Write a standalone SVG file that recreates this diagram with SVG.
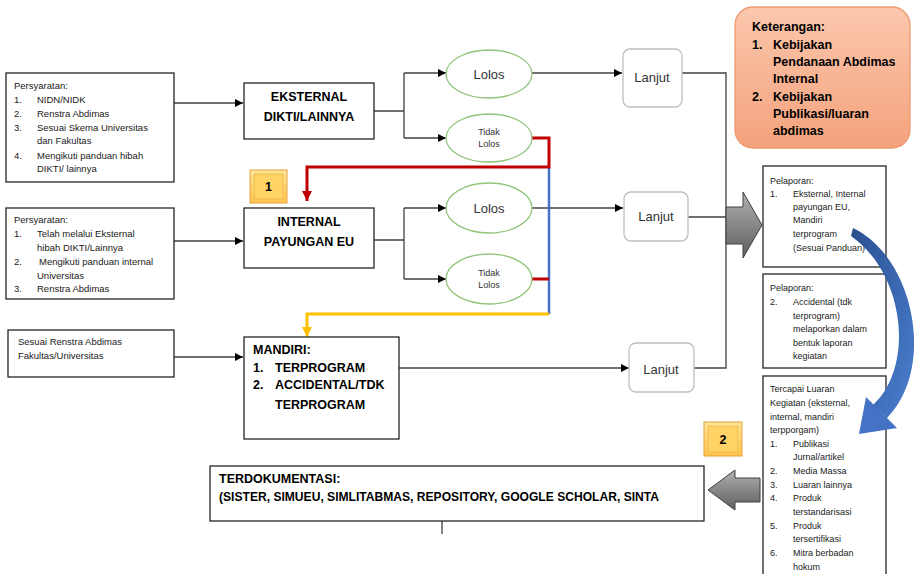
<svg xmlns="http://www.w3.org/2000/svg" width="914" height="574" viewBox="0 0 914 574">
<style>
.box{fill:#fff;stroke:#262626;stroke-width:1.3}
.ell{fill:#fff;stroke:#92c47a;stroke-width:1.3}
.lj{fill:#fff;stroke:#bfbfbf;stroke-width:1.3}
.ln{fill:none;stroke:#404040;stroke-width:1.3}
.s{font-family:"Liberation Sans",Arial,sans-serif;font-size:9.5px;fill:#1a1a1a}
.r{font-family:"Liberation Sans",Arial,sans-serif;font-size:9px;fill:#1a1a1a}
.b{font-family:"Liberation Sans",Arial,sans-serif;font-size:12.5px;font-weight:bold;fill:#000}
.e{font-family:"Liberation Sans",Arial,sans-serif;font-size:13px;fill:#333}
.t{font-family:"Liberation Sans",Arial,sans-serif;font-size:9px;fill:#333}
.k{font-family:"Liberation Sans",Arial,sans-serif;font-size:12.5px;font-weight:bold;fill:#000}
.m{text-anchor:middle}
</style>
<defs>
<marker id="ah" viewBox="0 0 10 10" refX="10" refY="5" markerWidth="8" markerHeight="8" markerUnits="userSpaceOnUse" orient="auto"><path d="M0,0L10,5L0,10z" fill="#000"/></marker>
<marker id="ahr" viewBox="0 0 10 10" refX="10" refY="5" markerWidth="10" markerHeight="10" markerUnits="userSpaceOnUse" orient="auto"><path d="M0,0L10,5L0,10z" fill="#c00000"/></marker>
<marker id="ahy" viewBox="0 0 10 10" refX="10" refY="5" markerWidth="10" markerHeight="10" markerUnits="userSpaceOnUse" orient="auto"><path d="M0,0L10,5L0,10z" fill="#ffc000"/></marker>
<linearGradient id="og" x1="0" y1="0" x2="0" y2="1"><stop offset="0" stop-color="#fbc7ad"/><stop offset="1" stop-color="#f4a27c"/></linearGradient>
<linearGradient id="gg" x1="0" y1="0" x2="0" y2="1"><stop offset="0" stop-color="#b0b0b0"/><stop offset="1" stop-color="#5e5e5e"/></linearGradient>
<linearGradient id="yg" x1="0" y1="0" x2="0" y2="1"><stop offset="0" stop-color="#ffe699"/><stop offset="1" stop-color="#ffc44d"/></linearGradient>
<linearGradient id="bg" x1="0" y1="0" x2="1" y2="1"><stop offset="0" stop-color="#2a4f8f"/><stop offset="1" stop-color="#4a7fd0"/></linearGradient>
</defs>

<g id="connectors">
<path class="ln" d="M174,103H243" marker-end="url(#ah)"/>
<path class="ln" d="M174,241H243" marker-end="url(#ah)"/>
<path class="ln" d="M174,357H243" marker-end="url(#ah)"/>
<path class="ln" d="M374,111H404M404,73V138"/>
<path class="ln" d="M404,73H446" marker-end="url(#ah)"/>
<path class="ln" d="M404,138H446" marker-end="url(#ah)"/>
<path class="ln" d="M532,73H622" marker-end="url(#ah)"/>
<path class="ln" d="M374,240H404M404,208V279"/>
<path class="ln" d="M404,208H446" marker-end="url(#ah)"/>
<path class="ln" d="M404,279H446" marker-end="url(#ah)"/>
<path class="ln" d="M532,208H623" marker-end="url(#ah)"/>
<path class="ln" d="M399,368H629" marker-end="url(#ah)"/>
<path class="ln" d="M682,73H726V368H694M688,217H726"/>
<path d="M549,167V314" fill="none" stroke="#4472c4" stroke-width="2.5"/>
<path d="M532,138H549V167H307V201" fill="none" stroke="#c00000" stroke-width="3" marker-end="url(#ahr)"/>
<path d="M532,279H549" fill="none" stroke="#c00000" stroke-width="3"/>
<path d="M549,314H307V337" fill="none" stroke="#ffc000" stroke-width="3" marker-end="url(#ahy)"/>
<path class="ln" d="M442,511V534" stroke="#000" stroke-width="1.6"/>
<polygon points="726,207 743,207 743,192 762,225 743,258 743,244 726,244" fill="url(#gg)" stroke="#404040" stroke-width="1"/>
<polygon points="708,490 735,470 735,478 760,478 760,502 735,502 735,510" fill="url(#gg)" stroke="#404040" stroke-width="1"/>
</g>

<g id="req1">
<rect class="box" x="6" y="73" width="168" height="109"/>
<text class="s" x="14" y="89">Persyaratan:</text>
<text class="s" x="14" y="103">1.</text><text class="s" x="37" y="103">NIDN/NIDK</text>
<text class="s" x="14" y="117">2.</text><text class="s" x="37" y="117">Renstra Abdimas</text>
<text class="s" x="14" y="131">3.</text><text class="s" x="37" y="131">Sesuai Skema Universitas</text>
<text class="s" x="37" y="144">dan Fakultas</text>
<text class="s" x="14" y="159">4.</text><text class="s" x="37" y="159">Mengikuti panduan hibah</text>
<text class="s" x="37" y="172">DIKTI/ lainnya</text>
</g>
<g id="req2">
<rect class="box" x="6" y="208" width="168" height="91"/>
<text class="s" x="14" y="223">Persyaratan:</text>
<text class="s" x="14" y="237">1.</text><text class="s" x="37" y="237">Telah melalui Eksternal</text>
<text class="s" x="37" y="251">hibah DIKTI/Lainnya</text>
<text class="s" x="14" y="265">2.</text><text class="s" x="39" y="265">Mengikuti panduan internal</text>
<text class="s" x="37" y="279">Universitas</text>
<text class="s" x="14" y="292">3.</text><text class="s" x="37" y="292">Renstra Abdimas</text>
</g>
<g id="req3">
<rect class="box" x="8" y="330" width="166" height="47"/>
<text class="s" x="18" y="345">Sesuai Renstra Abdimas</text>
<text class="s" x="18" y="359">Fakultas/Universitas</text>
</g>

<g id="eksternal">
<rect class="box" x="244" y="83" width="130" height="56"/>
<text class="b m" x="309" y="101">EKSTERNAL</text>
<text class="b m" x="309" y="121">DIKTI/LAINNYA</text>
</g>
<g id="internal">
<rect class="box" x="244" y="208" width="130" height="60"/>
<text class="b m" x="309" y="226">INTERNAL</text>
<text class="b m" x="309" y="246">PAYUNGAN EU</text>
</g>
<g id="mandiri">
<rect class="box" x="244" y="337" width="155" height="102"/>
<text class="b" x="253" y="354">MANDIRI:</text>
<text class="b" x="253" y="372">1.</text><text class="b" x="275" y="372">TERPROGRAM</text>
<text class="b" x="253" y="389">2.</text><text class="b" x="275" y="389">ACCIDENTAL/TDK</text>
<text class="b" x="275" y="409">TERPROGRAM</text>
</g>

<g id="lolos1"><ellipse class="ell" cx="489" cy="74" rx="43" ry="24"/><text class="e m" x="489" y="79">Lolos</text></g>
<g id="tidak1"><ellipse class="ell" cx="489" cy="138" rx="43" ry="24"/><text class="t m" x="489" y="135">Tidak</text><text class="t m" x="489" y="147">Lolos</text></g>
<g id="lolos2"><ellipse class="ell" cx="489" cy="208" rx="43" ry="25"/><text class="e m" x="489" y="213">Lolos</text></g>
<g id="tidak2"><ellipse class="ell" cx="489" cy="279" rx="43" ry="25"/><text class="t m" x="489" y="276">Tidak</text><text class="t m" x="489" y="288">Lolos</text></g>

<g id="lanjut1"><rect class="lj" x="623" y="49" width="59" height="58" rx="7"/><text class="e m" x="652" y="82" font-size="12">Lanjut</text></g>
<g id="lanjut2"><rect class="lj" x="624" y="192" width="64" height="49" rx="7"/><text class="e m" x="656" y="221" font-size="12">Lanjut</text></g>
<g id="lanjut3"><rect class="lj" x="629" y="343" width="65" height="49" rx="7"/><text class="e m" x="661" y="374" font-size="12">Lanjut</text></g>

<g id="badge1">
<rect x="250" y="170" width="37" height="33" fill="url(#yg)" stroke="#e6a23c" stroke-width="1"/>
<rect x="254" y="174" width="29" height="25" fill="#ffd366" stroke="#f0b44a" stroke-width="0.8"/>
<text class="b m" x="268.5" y="191" font-size="13">1</text>
</g>
<g id="badge2">
<rect x="704" y="422" width="38" height="34" fill="url(#yg)" stroke="#e6a23c" stroke-width="1"/>
<rect x="708" y="426" width="30" height="26" fill="#ffd366" stroke="#f0b44a" stroke-width="0.8"/>
<text class="b m" x="723" y="444" font-size="13">2</text>
</g>

<g id="keterangan">
<rect x="735" y="7" width="175" height="141" rx="18" fill="url(#og)" stroke="#ee9a70" stroke-width="1.3"/>
<text class="k" x="752" y="31">Keterangan:</text>
<text class="k" x="752" y="49">1.</text><text class="k" x="773" y="49">Kebijakan</text>
<text class="k" x="773" y="66">Pendanaan Abdimas</text>
<text class="k" x="773" y="83">Internal</text>
<text class="k" x="752" y="101">2.</text><text class="k" x="773" y="101">Kebijakan</text>
<text class="k" x="773" y="118">Publikasi/luaran</text>
<text class="k" x="773" y="135">abdimas</text>
</g>

<g id="pelaporan1">
<rect class="box" x="763" y="166" width="123" height="101"/>
<text class="r" x="770" y="184">Pelaporan:</text>
<text class="r" x="770" y="197">1.</text><text class="r" x="793" y="197">Eksternal, Internal</text>
<text class="r" x="793" y="210">payungan EU,</text>
<text class="r" x="793" y="223">Mandiri</text>
<text class="r" x="793" y="237">terprogram</text>
<text class="r" x="793" y="251">(Sesuai Panduan)</text>
</g>
<g id="pelaporan2">
<rect class="box" x="763" y="274" width="123" height="94"/>
<text class="r" x="770" y="291">Pelaporan:</text>
<text class="r" x="770" y="305">2.</text><text class="r" x="793" y="305">Accidental (tdk</text>
<text class="r" x="793" y="319">terprogram)</text>
<text class="r" x="793" y="332">melaporkan dalam</text>
<text class="r" x="793" y="346">bentuk laporan</text>
<text class="r" x="793" y="359">kegiatan</text>
</g>
<g id="luaran">
<rect class="box" x="763" y="376" width="123" height="210"/>
<text class="r" x="770" y="392">Tercapai Luaran</text>
<text class="r" x="770" y="406">Kegiatan (eksternal,</text>
<text class="r" x="770" y="420">internal, mandiri</text>
<text class="r" x="770" y="433">terpporgam)</text>
<text class="r" x="770" y="447">1.</text><text class="r" x="793" y="447">Publikasi</text>
<text class="r" x="793" y="460">Jurnal/artikel</text>
<text class="r" x="770" y="474">2.</text><text class="r" x="793" y="474">Media Massa</text>
<text class="r" x="770" y="488">3.</text><text class="r" x="793" y="488">Luaran lainnya</text>
<text class="r" x="770" y="501">4.</text><text class="r" x="793" y="501">Produk</text>
<text class="r" x="793" y="515">terstandarisasi</text>
<text class="r" x="770" y="529">5.</text><text class="r" x="793" y="529">Produk</text>
<text class="r" x="793" y="542">tersertifikasi</text>
<text class="r" x="770" y="556">6.</text><text class="r" x="793" y="556">Mitra berbadan</text>
<text class="r" x="793" y="570">hokum</text>
</g>

<g id="terdokumentasi">
<rect class="box" x="210" y="466" width="494" height="55"/>
<text class="b" x="219" y="483" font-size="12">TERDOKUMENTASI:</text>
<text class="b" x="219" y="501" font-size="12" textLength="440" lengthAdjust="spacingAndGlyphs">(SISTER, SIMUEU, SIMLITABMAS, REPOSITORY, GOOGLE SCHOLAR, SINTA</text>
</g>

<g id="curved-arrow">
<path d="M853,228C915,258 936,368 887,418L873,405C915,366 905,274 851,236Z" fill="url(#bg)"/>
<polygon points="859,434 897,428 866,397" fill="#4472c4"/>
</g>
</svg>
